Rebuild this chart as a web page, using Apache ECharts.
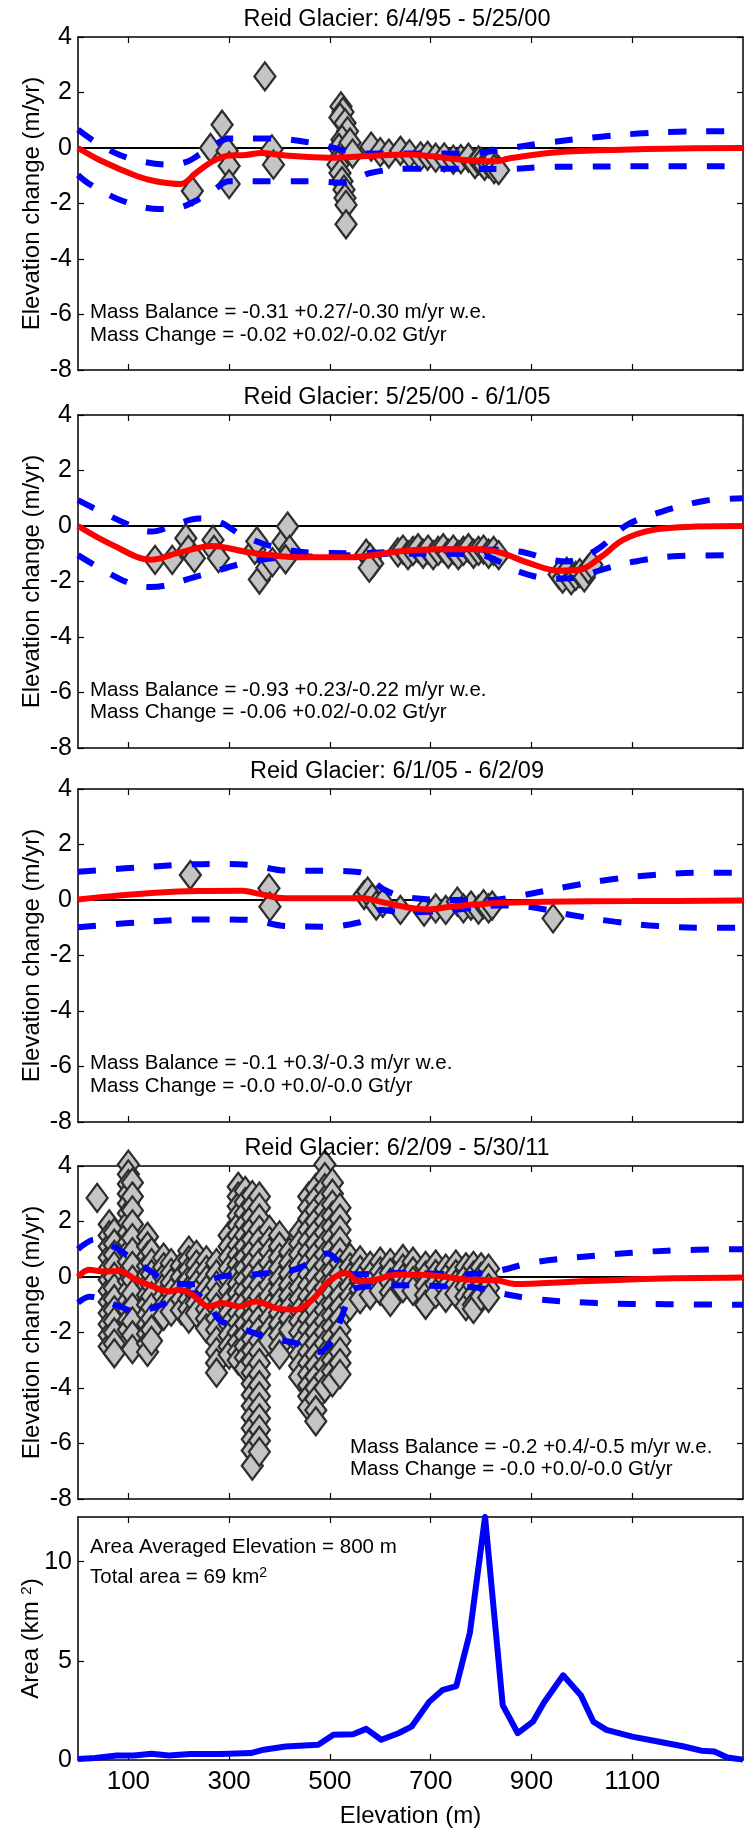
<!DOCTYPE html>
<html>
<head>
<meta charset="utf-8">
<script src="https://cdn.jsdelivr.net/npm/echarts@6/dist/echarts.min.js"></script>
<style>
  html, body { margin: 0; padding: 0; background: #fff; }
  #main { width: 747px; height: 1829px; }
</style>
</head>
<body>
<div id="main"></div>
<script>
// elevation axis (m)
var elevMin = 0, elevMax = 1320;
var elevTicks = [100, 300, 500, 700, 900, 1100];
var changeTicks = [-8, -6, -4, -2, 0, 2, 4];
var areaTicks = [0, 5, 10];
var zeroLine = [[0, 0], [1320, 0]];

var titles = [
  'Reid Glacier: 6/4/95 - 5/25/00',
  'Reid Glacier: 5/25/00 - 6/1/05',
  'Reid Glacier: 6/1/05 - 6/2/09',
  'Reid Glacier: 6/2/09 - 5/30/11'
];
var balanceText = [
  'Mass Balance = -0.31 +0.27/-0.30 m/yr w.e.',
  'Mass Balance = -0.93 +0.23/-0.22 m/yr w.e.',
  'Mass Balance = -0.1 +0.3/-0.3 m/yr w.e.',
  'Mass Balance = -0.2 +0.4/-0.5 m/yr w.e.'
];
var changeText = [
  'Mass Change = -0.02 +0.02/-0.02 Gt/yr',
  'Mass Change = -0.06 +0.02/-0.02 Gt/yr',
  'Mass Change = -0.0 +0.0/-0.0 Gt/yr',
  'Mass Change = -0.0 +0.0/-0.0 Gt/yr'
];

// ---- panel 1: 6/4/95 - 5/25/00
var p1Pts = [[227, -1.55], [263, 0.0], [286, 0.84], [296, -0.1], [300, -0.65], [300, -1.3],
  [371, 2.58], [385, -0.05], [388, -0.6],
  [522, 1.5], [526, 1.3], [520, 1.1], [530, 0.9], [535, 0.6], [524, 0.3], [518, 0.0], [522, -0.3],
  [516, -0.6], [520, -0.9], [524, -1.2], [528, -1.5], [530, -1.8], [532, -2.05], [532, -2.75],
  [540, 0.2], [545, -0.2],
  [582, 0.05], [600, -0.15], [617, -0.2], [640, -0.1], [658, -0.22], [680, -0.3], [694, -0.28],
  [710, -0.35], [727, -0.34], [745, -0.42], [760, -0.4], [775, -0.35], [788, -0.58], [795, -0.45],
  [801, -0.5], [807, -0.64], [815, -0.55], [821, -0.5], [826, -0.76], [835, -0.8]];
var p1Red = [[0, 0], [48, -0.48], [115, -1.0], [154, -1.2], [204, -1.3], [234, -0.9], [267, -0.48],
  [300, -0.27], [333, -0.25], [363, -0.18], [412, -0.27], [498, -0.35], [577, -0.29], [657, -0.23],
  [703, -0.3], [769, -0.43], [829, -0.48], [855, -0.38], [934, -0.18], [1033, -0.085], [1165, -0.025], [1320, 0]];
var p1Upper = [[0, 0.66], [40, 0.15], [83, -0.25], [130, -0.5], [181, -0.6], [215, -0.5], [240, -0.25],
  [270, 0.1], [300, 0.34], [386, 0.34], [472, 0.16], [520, -0.05], [560, -0.2], [650, -0.2], [750, -0.2],
  [830, -0.1], [860, 0.0], [934, 0.2], [1033, 0.4], [1112, 0.52], [1191, 0.59], [1271, 0.6], [1320, 0.6]];
var p1Lower = [[0, -0.97], [23, -1.3], [88, -1.9], [161, -2.2], [200, -2.15], [234, -1.9], [270, -1.5],
  [300, -1.2], [393, -1.2], [472, -1.2], [520, -1.25], [545, -1.15], [580, -0.9], [650, -0.75], [750, -0.75],
  [845, -0.76], [934, -0.68], [1007, -0.67], [1093, -0.66], [1320, -0.66]];

// ---- panel 2: 5/25/00 - 6/1/05
var p2Pts = [[153, -1.22], [187, -1.22], [214, -0.44], [219, -0.86], [231, -1.16], [268, -0.5], [270, -0.86],
  [279, -1.16], [351, -0.86], [355, -0.55], [360, -1.93], [375, -1.5], [386, -1.3], [407, -0.58],
  [416, -0.02], [420, -0.86], [412, -1.2],
  [572, -1.0], [580, -1.15], [585, -1.35], [578, -1.5],
  [635, -0.95], [645, -0.85], [655, -1.05], [665, -0.9], [675, -0.8], [685, -1.0], [695, -0.85],
  [705, -1.05], [715, -0.9], [725, -0.8], [735, -1.0], [745, -0.85], [755, -1.05], [765, -0.9],
  [775, -0.8], [785, -1.0], [795, -0.9], [805, -0.85], [815, -1.0], [825, -0.9], [835, -1.05],
  [955, -1.75], [962, -1.9], [970, -1.65], [979, -1.95], [988, -1.8], [996, -1.7], [1005, -1.85],
  [1013, -1.55], [1020, -1.4]];
var p2Red = [[0, 0], [68, -0.68], [145, -1.22], [197, -0.98], [266, -0.72], [343, -0.96], [446, -1.13],
  [541, -1.13], [635, -0.92], [713, -0.84], [799, -0.84], [842, -0.98], [893, -1.32], [954, -1.61],
  [996, -1.58], [1039, -1.1], [1082, -0.5], [1142, -0.14], [1228, -0.02], [1320, 0]];
var p2Upper = [[0, 0.93], [94, 0.1], [145, -0.2], [200, 0.1], [240, 0.27], [280, 0.15], [326, -0.33],
  [386, -0.74], [463, -0.96], [549, -0.98], [635, -0.92], [713, -0.85], [799, -0.85], [876, -0.92],
  [935, -1.2], [970, -1.28], [1005, -1.1], [1039, -0.74], [1090, 0.04], [1159, 0.52], [1245, 0.91], [1320, 1.0]];
var p2Lower = [[0, -1.05], [94, -2.0], [145, -2.2], [240, -1.8], [326, -1.35], [386, -1.16], [463, -1.1],
  [549, -1.05], [635, -1.0], [713, -1.0], [799, -1.05], [850, -1.4], [876, -1.65], [940, -1.9],
  [990, -1.85], [1039, -1.58], [1099, -1.3], [1193, -1.08], [1320, -1.05]];

// ---- panel 3: 6/1/05 - 6/2/09
var p3Pts = [[223, 0.9], [379, 0.42], [381, -0.24], [568, 0.18], [575, 0.3], [584, 0.06], [592, -0.2],
  [605, -0.1], [640, -0.36], [687, -0.42], [710, -0.3], [730, -0.36], [753, -0.06], [765, -0.3],
  [780, -0.2], [795, -0.35], [805, -0.15], [815, -0.3], [822, -0.2], [943, -0.66]];
var p3Red = [[0, 0.02], [68, 0.14], [154, 0.26], [240, 0.32], [326, 0.33], [360, 0.22], [412, 0.06],
  [498, 0.06], [566, 0.06], [600, -0.06], [652, -0.26], [695, -0.34], [738, -0.24], [790, -0.16],
  [841, -0.1], [927, -0.06], [1099, -0.04], [1320, -0.02]];
var p3Upper = [[0, 1.02], [94, 1.14], [197, 1.26], [266, 1.3], [343, 1.26], [412, 1.06], [498, 1.05],
  [560, 1.0], [583, 0.72], [610, 0.35], [650, 0.1], [750, 0.0], [820, 0.0], [884, 0.18], [970, 0.48],
  [1056, 0.74], [1142, 0.9], [1228, 0.98], [1320, 0.98]];
var p3Lower = [[0, -0.98], [94, -0.84], [197, -0.72], [266, -0.7], [343, -0.72], [412, -0.94], [498, -0.96],
  [560, -0.8], [575, -0.66], [600, -0.36], [650, -0.45], [750, -0.35], [830, -0.2], [893, -0.24],
  [979, -0.54], [1065, -0.78], [1151, -0.94], [1236, -1.0], [1320, -1.0]];

// ---- panel 4: 6/2/09 - 5/30/11 (columns of points: elevation, values)
var p4Cols = [
  [38, [2.85]],
  [62, [1.9, 1.5, 1.1, 0.7, 0.3, -0.1, -0.5, -0.9, -1.3, -1.7, -2.1, -2.5]],
  [72, [1.6, 1.2, 0.8, 0.4, 0.0, -0.4, -0.8, -1.2, -1.6, -2.0, -2.4, -2.75]],
  [100, [4.05, 3.7, 3.35, 3.0, 2.65, 2.3, 1.95, 1.6, 1.25, 0.9, 0.55, 0.2, -0.15, -0.5, -0.85, -1.2, -1.55, -1.9]],
  [108, [3.4, 2.9, 2.4, 1.9, 1.4, 0.9, 0.4, -0.1, -0.6, -1.1, -1.6, -2.1, -2.6]],
  [138, [1.45, 1.1, 0.75, 0.4, 0.05, -0.3, -0.65, -1.0, -1.35, -1.7, -2.05, -2.4, -2.7]],
  [146, [0.9, 0.5, 0.1, -0.3, -0.7, -1.1, -1.5, -1.9, -2.3]],
  [170, [0.7, 0.35, 0.0, -0.35, -0.7, -1.05, -1.4]],
  [185, [0.5, 0.15, -0.2, -0.55, -0.9, -1.25]],
  [205, [0.4, 0.0, -0.4, -0.8, -1.2]],
  [220, [0.95, 0.6, 0.25, -0.1, -0.45, -0.8, -1.15, -1.5]],
  [235, [0.8, 0.45, 0.1, -0.25, -0.6, -0.95, -1.3]],
  [255, [0.6, 0.25, -0.1, -0.45, -0.8, -1.15, -1.5, -1.85]],
  [275, [0.5, 0.1, -0.3, -0.7, -1.1, -1.5, -1.9, -2.3, -2.7, -3.1, -3.45]],
  [300, [1.5, 1.1, 0.7, 0.3, -0.1, -0.5, -0.9, -1.3, -1.7, -2.1, -2.5, -2.8]],
  [318, [3.25, 2.9, 2.55, 2.2, 1.85, 1.5, 1.15, 0.8, 0.45, 0.1, -0.25, -0.6, -0.95, -1.3, -1.65, -2.0, -2.35, -2.7, -3.0]],
  [332, [3.1, 2.7, 2.3, 1.9, 1.5, 1.1, 0.7, 0.3, -0.1, -0.5, -0.9, -1.3, -1.7, -2.1, -2.5, -2.9, -3.3]],
  [346, [2.95, 2.55, 2.15, 1.75, 1.35, 0.95, 0.55, 0.15, -0.25, -0.65, -1.05, -1.45, -1.85, -2.25, -2.65,
         -3.05, -3.45, -3.85, -4.25, -4.65, -5.05, -5.45, -5.85, -6.25, -6.8]],
  [360, [2.9, 2.5, 2.1, 1.7, 1.3, 0.9, 0.5, 0.1, -0.3, -0.7, -1.1, -1.5, -1.9, -2.3, -2.7, -3.1, -3.5,
         -3.9, -4.3, -4.7, -5.1, -5.5, -5.9, -6.3]],
  [380, [1.7, 1.3, 0.9, 0.5, 0.1, -0.3, -0.7, -1.1, -1.5, -1.9, -2.3]],
  [400, [1.5, 1.1, 0.7, 0.3, -0.1, -0.5, -0.9, -1.3, -1.7, -2.1, -2.5, -2.8]],
  [420, [0.9, 0.5, 0.1, -0.3, -0.7, -1.1, -1.5, -1.9]],
  [440, [1.6, 1.2, 0.8, 0.4, 0.0, -0.4, -0.8, -1.2, -1.6, -2.0, -2.4, -2.8, -3.2, -3.6]],
  [458, [2.9, 2.5, 2.1, 1.7, 1.3, 0.9, 0.5, 0.1, -0.3, -0.7, -1.1, -1.5, -1.9, -2.3, -2.7, -3.1, -3.5, -3.9, -4.3, -4.7]],
  [472, [3.2, 2.8, 2.4, 2.0, 1.6, 1.2, 0.8, 0.4, 0.0, -0.4, -0.8, -1.2, -1.6, -2.0, -2.4, -2.8, -3.2, -3.6,
         -4.0, -4.4, -4.8, -5.2]],
  [490, [4.05, 3.6, 3.2, 2.8, 2.4, 2.0, 1.6, 1.2, 0.8, 0.4, 0.0, -0.4, -0.8, -1.2, -1.6, -2.0, -2.4, -2.8, -3.2, -3.6, -4.0]],
  [505, [3.4, 3.0, 2.6, 2.2, 1.8, 1.4, 1.0, 0.6, 0.2, -0.2, -0.6, -1.0, -1.4, -1.8, -2.2, -2.6, -3.0, -3.4, -3.8]],
  [520, [2.5, 2.1, 1.7, 1.3, 0.9, 0.5, 0.1, -0.3, -0.7, -1.1, -1.5, -1.9, -2.3, -2.7, -3.1, -3.5]],
  [540, [0.7, 0.35, 0.0, -0.35, -0.7, -1.05]],
  [560, [0.6, 0.25, -0.1, -0.45, -0.8]],
  [580, [0.4, 0.05, -0.3, -0.65]],
  [600, [0.55, 0.2, -0.15, -0.5]],
  [620, [0.5, 0.15, -0.2, -0.55, -0.9]],
  [645, [0.65, 0.3, -0.05, -0.4]],
  [665, [0.55, 0.2, -0.15, -0.5]],
  [690, [0.4, 0.05, -0.3, -0.65, -1.0]],
  [710, [0.45, 0.1, -0.25, -0.6]],
  [730, [0.3, -0.05, -0.4, -0.75]],
  [750, [0.45, 0.1, -0.25, -0.6]],
  [770, [0.35, 0.0, -0.35, -0.7, -1.05]],
  [785, [0.4, 0.05, -0.3, -0.65, -1.0, -1.15]],
  [800, [0.35, 0.0, -0.35, -0.7]],
  [815, [0.3, -0.05, -0.4, -0.75]]
];
var p4Red = [[0, 0], [22, 0.26], [50, 0.2], [82, 0.22], [115, -0.1], [148, -0.34], [181, -0.52], [200, -0.46],
  [227, -0.64], [260, -1.06], [287, -0.94], [320, -1.06], [353, -0.88], [393, -1.12], [432, -1.18],
  [465, -0.82], [498, -0.16], [531, 0.14], [558, -0.16], [591, -0.1], [631, 0.08], [677, 0.08],
  [723, 0.02], [776, -0.1], [830, -0.12], [868, -0.25], [981, -0.17], [1124, -0.07], [1320, -0.02]];
var p4Upper = [[0, 1.0], [12, 1.17], [32, 1.35], [75, 1.05], [108, 0.65], [148, 0.16], [181, -0.2], [227, -0.26],
  [260, -0.1], [293, 0.04], [353, 0.1], [432, 0.28], [465, 0.58], [495, 0.85], [512, 0.64], [531, 0.1],
  [560, 0.1], [650, 0.15], [750, 0.1], [820, 0.17], [906, 0.53], [1029, 0.77], [1170, 0.95], [1320, 1.0]];
var p4Lower = [[0, -0.93], [23, -0.71], [82, -1.06], [115, -1.24], [148, -1.12], [181, -0.88], [220, -0.58],
  [254, -0.82], [280, -1.54], [313, -1.78], [359, -2.08], [393, -2.26], [432, -2.38], [459, -2.68],
  [480, -2.7], [500, -2.4], [512, -2.02], [531, -1.06], [550, -0.4], [650, -0.3], [750, -0.35],
  [800, -0.4], [829, -0.55], [906, -0.79], [1029, -0.94], [1170, -0.98], [1320, -1.0]];

// ---- panel 5: area by elevation (km2)
var areaElev = [0, 34, 77, 111, 146, 180, 223, 283, 343, 369, 412, 477, 507, 546, 572, 602, 636, 662, 697,
  723, 751, 778, 808, 843, 873, 903, 925, 963, 998, 1023, 1049, 1100, 1151, 1203, 1237, 1263, 1289, 1320];
var areaKm2 = [0.05, 0.1, 0.23, 0.23, 0.32, 0.23, 0.3, 0.3, 0.35, 0.52, 0.68, 0.77, 1.27, 1.3, 1.57, 1.02,
  1.35, 1.68, 2.93, 3.52, 3.73, 6.43, 12.25, 2.77, 1.35, 1.93, 2.9, 4.27, 3.27, 1.93, 1.52, 1.18, 0.93,
  0.68, 0.47, 0.43, 0.13, 0.02];

var p4Pts = [];
p4Cols.forEach(function (c) {
  c[1].forEach(function (v) { p4Pts.push([c[0], v]); });
});

var FONT = '"Liberation Sans", Arial, sans-serif';
var panelTops = [37, 415, 789, 1166];
var panelH = 333;
var gridLeft = 78, gridW = 665;

var grids = [], xAxes = [], yAxes = [], series = [], graphics = [];

function plain(v) { return String(v); }

function addAxes(i, top, height, ymin, ymax, yTicks, yName, showXLabel) {
  grids.push({ left: gridLeft, width: gridW, top: top, height: height });
  var lineSt = { onZero: false, lineStyle: { color: '#000', width: 1.5 } };
  var tickSt = { color: '#000', width: 1.2 };
  xAxes.push({
    type: 'value', gridIndex: i, min: elevMin, max: elevMax, position: 'bottom',
    axisLine: lineSt, splitLine: { show: false },
    axisTick: { inside: true, length: 6, customValues: elevTicks, lineStyle: tickSt },
    axisLabel: { show: showXLabel, customValues: elevTicks, formatter: plain, fontSize: 26, color: '#000', fontFamily: FONT, margin: 9 },
    name: showXLabel ? 'Elevation (m)' : '', nameLocation: 'middle', nameGap: 44, nameMoveOverlap: false,
    nameTextStyle: { fontSize: 24, color: '#000', fontFamily: FONT }
  });
  xAxes.push({
    type: 'value', gridIndex: i, min: elevMin, max: elevMax, position: 'top',
    axisLine: lineSt, splitLine: { show: false },
    axisTick: { inside: true, length: 6, customValues: elevTicks, lineStyle: tickSt },
    axisLabel: { show: false }
  });
  yAxes.push({
    type: 'value', gridIndex: i, min: ymin, max: ymax, position: 'left',
    axisLine: lineSt, splitLine: { show: false },
    axisTick: { inside: true, length: 6, customValues: yTicks, lineStyle: tickSt },
    axisLabel: { customValues: yTicks, formatter: plain, fontSize: 25, color: '#000', fontFamily: FONT, margin: 6 },
    name: yName, nameLocation: 'middle', nameGap: 34, nameRotate: 90, nameMoveOverlap: false,
    nameTextStyle: {
      fontSize: 24, color: '#000', fontFamily: FONT,
      rich: { sup: { fontSize: 15, color: '#000', fontFamily: FONT, verticalAlign: 'top', padding: [0, 0, 10, 0] } }
    }
  });
  yAxes.push({
    type: 'value', gridIndex: i, min: ymin, max: ymax, position: 'right',
    axisLine: lineSt, splitLine: { show: false },
    axisTick: { inside: true, length: 6, customValues: yTicks, lineStyle: tickSt },
    axisLabel: { show: false }
  });
}

function txt(x, y, text, size, align, rich) {
  var st = {
    text: text, fill: '#000', font: size + 'px ' + FONT,
    align: align, textAlign: align, verticalAlign: 'middle', textVerticalAlign: 'middle'
  };
  if (rich) st.rich = rich;
  graphics.push({ type: 'text', x: x, y: y, style: st, z: 100 });
}

var panels = [
  [p1Pts, p1Red, p1Upper, p1Lower],
  [p2Pts, p2Red, p2Upper, p2Lower],
  [p3Pts, p3Red, p3Upper, p3Lower],
  [p4Pts, p4Red, p4Upper, p4Lower]
];
var titleY = [20, 398, 772, 1149];
var annot = [[90, 312, 335], [90, 690, 712], [90, 1063, 1086], [350, 1447, 1469]];

panels.forEach(function (p, i) {
  addAxes(i, panelTops[i], panelH, -8, 4, changeTicks, 'Elevation change (m/yr)', false);
  var xi = i * 2, yi = i * 2;
  series.push({
    type: 'line', xAxisIndex: xi, yAxisIndex: yi, data: zeroLine, symbol: 'none', silent: true,
    lineStyle: { color: '#000', width: 2 }, z: 1
  });
  series.push({
    type: 'scatter', xAxisIndex: xi, yAxisIndex: yi, data: p[0], clip: false,
    symbol: 'diamond', symbolSize: [21, 28],
    itemStyle: { color: '#c4c4c4', borderColor: '#2e2e2e', borderWidth: 2.3, opacity: 1 }, z: 2
  });
  [p[2], p[3]].forEach(function (band) {
    series.push({
      type: 'line', xAxisIndex: xi, yAxisIndex: yi, data: band, symbol: 'none', smooth: 0.35,
      lineStyle: { color: '#0000ff', width: 6, type: [18, 20], cap: 'butt' }, z: 3
    });
  });
  series.push({
    type: 'line', xAxisIndex: xi, yAxisIndex: yi, data: p[1], symbol: 'none', smooth: 0.35,
    lineStyle: { color: '#ff0000', width: 6 }, z: 4
  });
  txt(397, titleY[i], titles[i], 23.5, 'center');
  txt(annot[i][0], annot[i][1], balanceText[i], 20.5, 'left');
  txt(annot[i][0], annot[i][2], changeText[i], 20.5, 'left');
});

// area panel
addAxes(4, 1517, 245, 0, 12.25, areaTicks, 'Area (km {sup|2})', true);
series.push({
  type: 'line', xAxisIndex: 8, yAxisIndex: 8,
  data: areaElev.map(function (e, k) { return [e, areaKm2[k]]; }),
  symbol: 'none', lineStyle: { color: '#0000ff', width: 6, join: 'round' }, z: 3
});
txt(90, 1547, 'Area Averaged Elevation = 800 m', 20.5, 'left');
txt(90, 1577, 'Total area = 69 km{sup|2}', 20.5, 'left',
  { sup: { fontSize: 14, fill: '#000', fontFamily: FONT, verticalAlign: 'top', padding: [0, 0, 8, 0] } });

var chart = echarts.init(document.getElementById('main'), null, { renderer: 'canvas' });
chart.setOption({
  animation: false,
  backgroundColor: '#fff',
  grid: grids,
  xAxis: xAxes,
  yAxis: yAxes,
  series: series,
  graphic: graphics
});
</script>
</body>
</html>
